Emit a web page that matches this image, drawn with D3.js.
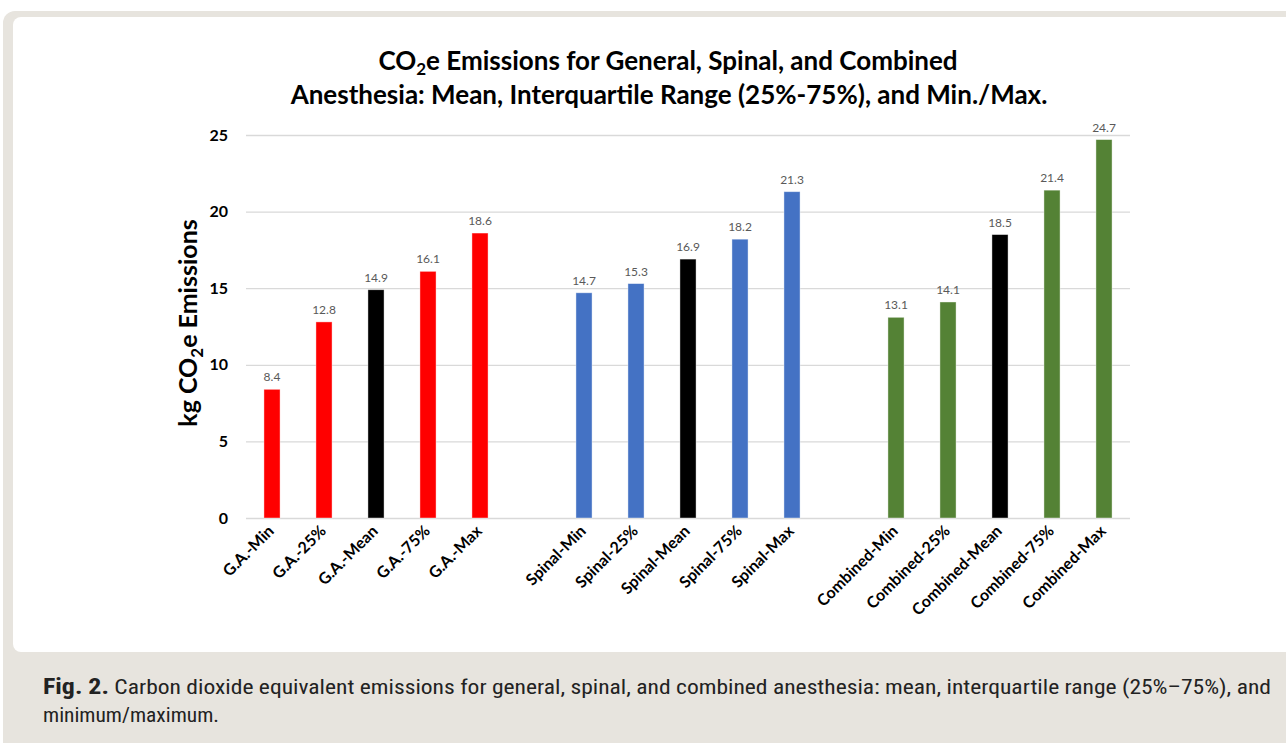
<!DOCTYPE html>
<html>
<head>
<meta charset="utf-8">
<script src="https://cdn.jsdelivr.net/npm/d3@7"></script>
<style>
  html, body { margin: 0; padding: 0; background: #fff; }
  svg { display: block; }
</style>
</head>
<body>
<div id="chart"></div>
<script>
// Chart data
const groups = ['G.A.', 'Spinal', 'Combined'];
const stats = ['Min', '25%', 'Mean', '75%', 'Max'];
const gaValues = [8.4, 12.8, 14.9, 16.1, 18.6];
const spinalValues = [14.7, 15.3, 16.9, 18.2, 21.3];
const combinedValues = [13.1, 14.1, 18.5, 21.4, 24.7];
const groupColors = ['#ff0000', '#4472c4', '#548235'];
const meanColor = '#000000';
const yTicks = [0, 5, 10, 15, 20, 25];

const W = 1286, H = 743;
const svg = d3.select('#chart').append('svg')
    .attr('width', W).attr('height', H);

// frame + caption panel
svg.append('rect').attr('x', 3).attr('y', 11).attr('width', W + 20).attr('height', H + 20)
    .attr('rx', 12).attr('fill', '#e7e4de');
svg.append('rect').attr('x', 13).attr('y', 17).attr('width', W + 20).attr('height', 635)
    .attr('rx', 8).attr('fill', '#ffffff');

// build rows: groups separated by a blank slot
const rows = [];
const domain = [];
[gaValues, spinalValues, combinedValues].forEach((vals, gi) => {
    if (gi > 0) domain.push('gap' + gi);
    vals.forEach((v, i) => {
        const name = `${groups[gi]}-${stats[i]}`;
        domain.push(name);
        rows.push({ name, value: v, color: stats[i] === 'Mean' ? meanColor : groupColors[gi] });
    });
});

const margin = { left: 246, right: 156 };
const x = d3.scaleBand().domain(domain)
    .range([margin.left, W - margin.right])
    .paddingInner(0.69).paddingOuter(0.345);
const y = d3.scaleLinear().domain([0, 25]).range([518, 135]);

// gridlines
svg.append('g').selectAll('line').data(yTicks).join('line')
    .attr('x1', margin.left).attr('x2', W - margin.right)
    .attr('y1', d => y(d) + 0.5).attr('y2', d => y(d) + 0.5)
    .attr('stroke', '#d9d9d9').attr('stroke-width', 1.3);

// y tick labels
svg.append('g').selectAll('text').data(yTicks).join('text')
    .attr('x', 228).attr('y', d => y(d)).attr('dy', '0.35em')
    .attr('text-anchor', 'end')
    .style('font-family', 'Lato, sans-serif').style('font-weight', 700)
    .style('font-size', '16px').attr('fill', '#000')
    .text(d => d);

// bars
svg.append('g').selectAll('rect').data(rows).join('rect')
    .attr('x', d => x(d.name)).attr('width', x.bandwidth())
    .attr('y', d => y(d.value)).attr('height', d => y(0) - y(d.value))
    .attr('fill', d => d.color)
    .attr('stroke', '#ffffff').attr('stroke-opacity', 0.5).attr('stroke-width', 0.8);

// value labels
svg.append('g').selectAll('text').data(rows).join('text')
    .attr('x', d => x(d.name) + x.bandwidth() / 2)
    .attr('y', d => y(d.value) - 8)
    .attr('text-anchor', 'middle')
    .style('font-family', 'Lato, sans-serif').style('font-size', '12px')
    .attr('fill', '#595959')
    .text(d => d.value.toFixed(1));

// x labels, rotated
svg.append('g').selectAll('text').data(rows).join('text')
    .attr('transform', d => `translate(${x(d.name) + x.bandwidth() / 2 + 3},${532}) rotate(-45)`)
    .attr('text-anchor', 'end')
    .style('font-family', 'Lato, sans-serif').style('font-weight', 700)
    .style('font-size', '16px').attr('fill', '#000')
    .text(d => d.name);

// y axis title
const yt = svg.append('text')
    .attr('transform', 'translate(197,323) rotate(-90)')
    .attr('text-anchor', 'middle')
    .style('font-family', 'Lato, sans-serif').style('font-weight', 700)
    .style('font-size', '25px').attr('fill', '#000');
yt.append('tspan').text('kg CO');
yt.append('tspan').attr('dy', 6).style('font-size', '17px').text('2');
yt.append('tspan').attr('dy', -6).text('e Emissions');

// chart title
const t1 = svg.append('text')
    .attr('x', 668).attr('y', 70).attr('text-anchor', 'middle')
    .style('font-family', 'Lato, sans-serif').style('font-weight', 700)
    .style('font-size', '26px').attr('fill', '#000');
t1.append('tspan').text('CO');
t1.append('tspan').attr('dy', 5).style('font-size', '17px').text('2');
t1.append('tspan').attr('dy', -5).text('e Emissions for General, Spinal, and Combined');
svg.append('text')
    .attr('x', 669).attr('y', 104).attr('text-anchor', 'middle')
    .style('font-family', 'Lato, sans-serif').style('font-weight', 700)
    .style('font-size', '26px').attr('fill', '#000')
    .text('Anesthesia: Mean, Interquartile Range (25%-75%), and Min./Max.');

// caption
const capFont = '"Liberation Sans Narrow", "Roboto Condensed", "Liberation Sans", sans-serif';
const cap = svg.append('text')
    .attr('x', 43).attr('y', 694)
    .style('font-family', capFont)
    .style('font-size', '20px').attr('fill', '#222')
    .attr('textLength', 1228).attr('lengthAdjust', 'spacingAndGlyphs');
cap.append('tspan').style('font-weight', 700).style('font-size', '22px').text('Fig. 2.');
cap.append('tspan').text(' Carbon dioxide equivalent emissions for general, spinal, and combined anesthesia: mean, interquartile range (25%\u201375%), and');
svg.append('text')
    .attr('x', 43).attr('y', 722)
    .style('font-family', capFont)
    .style('font-size', '20px').attr('fill', '#222')
    .attr('textLength', 176).attr('lengthAdjust', 'spacingAndGlyphs')
    .text('minimum/maximum.');
</script>
</body>
</html>
